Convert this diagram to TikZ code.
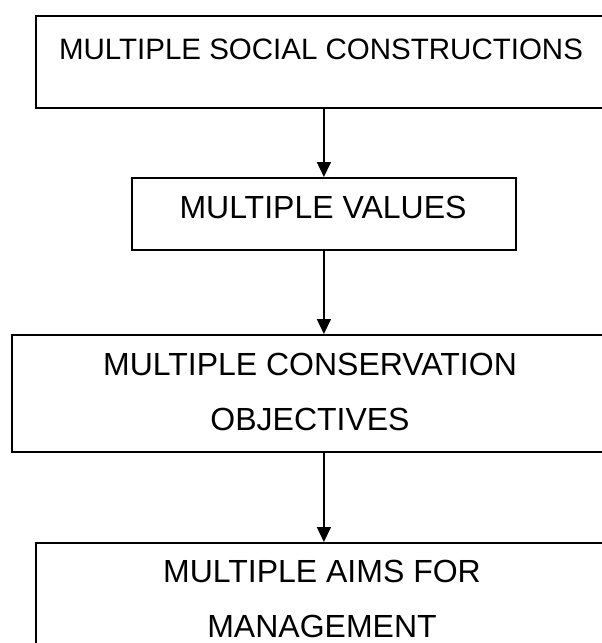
\documentclass[tikz,border=0pt]{standalone}
\usepackage{fontspec}
\setmainfont{Liberation Sans}
\usetikzlibrary{arrows.meta}
\begin{document}
\begin{tikzpicture}[x=1pt,y=-1pt,
  box/.style={draw=black,line width=1.8pt,rectangle,anchor=north west,inner sep=0pt},
  label/.style={anchor=base,inner sep=0pt,font=\fontsize{32}{36}\selectfont},
  arr/.style={line width=1.6pt,-{Triangle[length=15pt,width=14pt]}}]
\useasboundingbox (0,0) rectangle (602,643);
\clip (0,0) rectangle (602,643);
% boxes
\node[box,minimum width=572pt,minimum height=92pt] (b1) at (35,15) {};
\node[box,minimum width=384pt,minimum height=72pt] (b2) at (131,177) {};
\node[box,minimum width=598pt,minimum height=117pt] (b3) at (11,334) {};
\node[box,minimum width=574pt,minimum height=140pt] (b4) at (35,542) {};
% texts
\node[label,font=\fontsize{29.5}{34}\selectfont] (t1) at (321,59) {MULTIPLE SOCIAL CONSTRUCTIONS};
\node[label] (t2) at (323,218) {MULTIPLE VALUES};
\node[label] (t3a) at (310,375) {MULTIPLE CONSERVATION};
\node[label] (t3b) at (310,430) {OBJECTIVES};
\node[label] (t4a) at (322,582) {MULTIPLE AIMS FOR};
\node[label] (t4b) at (322,637) {MANAGEMENT};
% connectors
\draw[arr] (b1.south -| b2.north) -- (b2.north);
\draw[arr] (b2.south) -- (b3.north -| b2.south);
\draw[arr] (b3.south -| b2.south) -- (b4.north -| b2.south);
\end{tikzpicture}
\end{document}
